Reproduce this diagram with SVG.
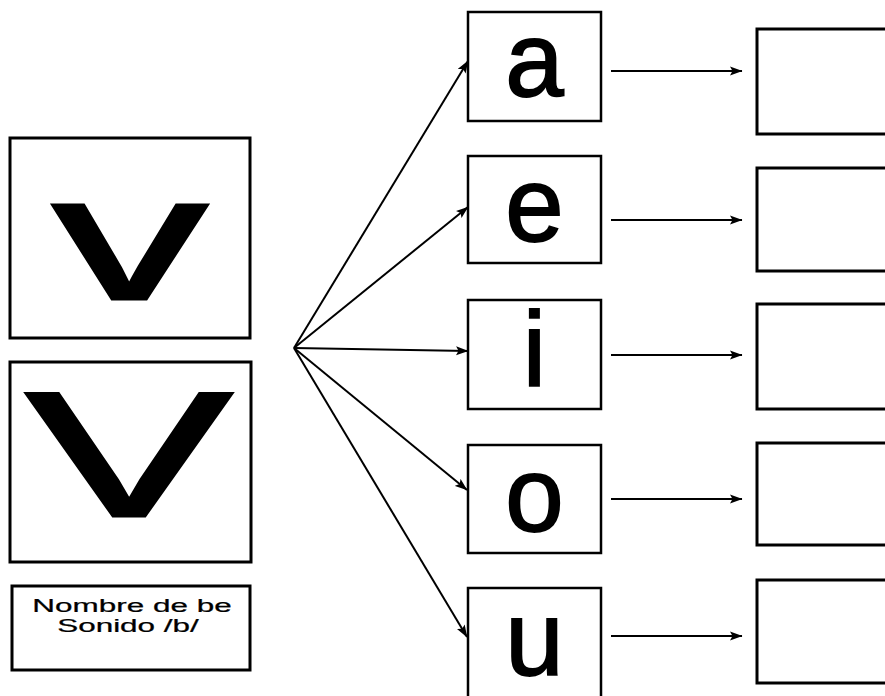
<svg xmlns="http://www.w3.org/2000/svg" width="885" height="696" viewBox="0 0 885 696">
<defs>
<marker id="ah" markerUnits="userSpaceOnUse" markerWidth="14" markerHeight="10" refX="12" refY="5" orient="auto">
<path d="M0,0.5 L12.5,5 L0,9.5 L2.5,5 Z" fill="#000"/>
</marker>
<style>
.box{fill:#fff;stroke:#000;stroke-width:3}
.lbox{fill:#fff;stroke:#000;stroke-width:2.5}
.big{font-family:"Liberation Sans",Arial,sans-serif;font-size:178px;fill:#000;stroke:#000;stroke-width:3;text-anchor:middle}
.let{font-family:"Liberation Sans",Arial,sans-serif;font-size:105px;fill:#000;stroke:#000;stroke-width:1.8;text-anchor:middle}
.cap{font-family:"Liberation Sans",Arial,sans-serif;font-size:18.5px;fill:#000;stroke:#000;stroke-width:0.25;text-anchor:middle}
.ln{stroke:#000;stroke-width:2;fill:none;marker-end:url(#ah)}
</style>
</defs>
<rect width="885" height="696" fill="#fff"/>
<g id="node-v-lower">
<rect class="box" x="10" y="138" width="240" height="200"/>
<text class="big" transform="translate(130,299) scale(1.74,1)">v</text>
</g>
<g id="node-v-upper">
<rect class="box" x="10" y="362" width="241" height="200"/>
<text class="big" transform="translate(129,516) scale(1.74,1)">V</text>
</g>
<g id="node-caption">
<rect class="box" x="12" y="586" width="238" height="84"/>
<text class="cap" transform="translate(132,611.5) scale(1.7,1)">Nombre de be</text>
<text class="cap" transform="translate(128,631.5) scale(1.7,1)">Sonido /b/</text>
</g>
<g id="node-a"><rect class="lbox" x="468" y="12" width="133" height="109"/><text class="let" x="534.5" y="96">a</text></g>
<g id="node-e"><rect class="lbox" x="468" y="156" width="133" height="107"/><text class="let" x="534.5" y="241">e</text></g>
<g id="node-i"><rect class="lbox" x="468" y="300" width="133" height="109"/><text class="let" x="534.5" y="386">i</text></g>
<g id="node-o"><rect class="lbox" x="468" y="445" width="133" height="108"/><text class="let" x="534.5" y="531">o</text></g>
<g id="node-u"><rect class="lbox" x="468" y="588" width="133" height="115"/><text class="let" x="534.5" y="675">u</text></g>
<g id="node-r1"><rect class="box" x="757" y="29" width="140" height="105"/></g>
<g id="node-r2"><rect class="box" x="757" y="168" width="140" height="103"/></g>
<g id="node-r3"><rect class="box" x="757" y="304" width="140" height="105"/></g>
<g id="node-r4"><rect class="box" x="757" y="443" width="140" height="102"/></g>
<g id="node-r5"><rect class="box" x="757" y="580" width="140" height="103"/></g>
<g id="connectors">
<line class="ln" x1="294" y1="348" x2="468" y2="61"/>
<line class="ln" x1="294" y1="348" x2="468" y2="207"/>
<line class="ln" x1="294" y1="348" x2="468" y2="351"/>
<line class="ln" x1="294" y1="348" x2="467" y2="490"/>
<line class="ln" x1="294" y1="348" x2="467" y2="637"/>
<line class="ln" x1="611" y1="71" x2="742" y2="71"/>
<line class="ln" x1="611" y1="220" x2="742" y2="220"/>
<line class="ln" x1="611" y1="355" x2="742" y2="355"/>
<line class="ln" x1="611" y1="499" x2="742" y2="499"/>
<line class="ln" x1="611" y1="636" x2="742" y2="636"/>
</g>
</svg>
